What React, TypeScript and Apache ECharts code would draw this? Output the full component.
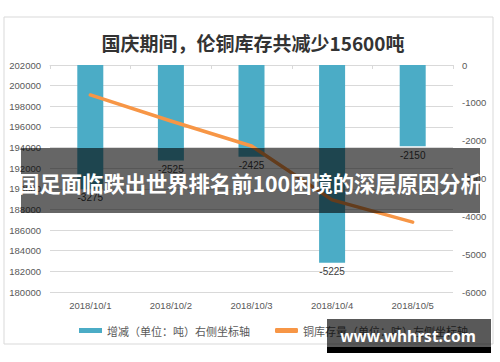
import React, { useEffect, useRef } from "react";
import * as echarts from "echarts";

const titleText = "国庆期间，伦铜库存共减少15600吨";
const categories = ["2018/10/1", "2018/10/2", "2018/10/3", "2018/10/4", "2018/10/5"];
const changeName = "增减（单位：吨）右侧坐标轴";
const stockName = "铜库存量（单位：吨）左侧坐标轴";
const changeValues = [-3275, -2525, -2425, -5225, -2150];
const stockValues = [199100, 196575, 194150, 188925, 186775];
const leftAxisRange = [180000, 202000, 2000];
const rightAxisRange = [-6000, 0, 1000];
const bannerText = "国足面临跌出世界排名前100困境的深层原因分析";
const watermarkText = "www.whhrst.com";

export default function App() {
  const ref = useRef<HTMLDivElement>(null);
  useEffect(() => {
    if (!ref.current) return;
    const chart = echarts.init(ref.current, undefined, { renderer: "svg" });
    const axisLabel = {
      color: "#595959",
      fontSize: 9.5,
      fontFamily: "Liberation Sans",
      formatter: (v: any) => String(v),
    };
    chart.setOption({
      animation: false,
      backgroundColor: "#ffffff",
      title: {
        text: titleText,
        left: 248,
        textAlign: "center",
        top: 28,
        textStyle: { color: "#333333", fontSize: 19, fontWeight: "bold", fontFamily: "Noto Sans CJK SC" },
      },
      grid: { left: 50, right: 47, top: 65, bottom: 70 },
      legend: {
        left: 74,
        top: 320,
        itemWidth: 23,
        itemHeight: 5,
        itemGap: 25,
        textStyle: { color: "#595959", fontSize: 11, fontFamily: "Noto Sans CJK SC" },
        data: [
          { name: changeName, icon: "rect" },
          { name: stockName, icon: "roundRect" },
        ],
      },
      xAxis: {
        type: "category",
        data: categories,
        axisLine: { lineStyle: { color: "#d9d9d9" } },
        axisTick: { show: true, length: 4, lineStyle: { color: "#d9d9d9" } },
        axisLabel: { color: "#595959", fontSize: 9.5, fontFamily: "Liberation Sans", margin: 8 },
      },
      yAxis: [
        {
          type: "value",
          min: leftAxisRange[0],
          max: leftAxisRange[1],
          interval: leftAxisRange[2],
          axisLine: { show: false },
          axisTick: { show: false },
          splitLine: { lineStyle: { color: "#d9d9d9" } },
          axisLabel: { ...axisLabel, margin: 9 },
        },
        {
          type: "value",
          min: rightAxisRange[0],
          max: rightAxisRange[1],
          interval: rightAxisRange[2],
          axisLine: { show: false },
          axisTick: { show: false },
          splitLine: { show: false },
          axisLabel: { ...axisLabel, margin: 9 },
        },
      ],
      series: [
        {
          name: changeName,
          type: "bar",
          yAxisIndex: 1,
          barWidth: 26,
          data: changeValues,
          itemStyle: { color: "#4bacc6" },
          label: {
            show: true,
            position: "bottom",
            distance: 4,
            color: "#404040",
            fontSize: 10,
            fontFamily: "Liberation Sans",
          },
          z: 2,
        },
        {
          name: stockName,
          type: "line",
          yAxisIndex: 0,
          data: stockValues,
          showSymbol: false,
          symbol: "none",
          lineStyle: { color: "#f79646", width: 3.5, cap: "round", join: "round" },
          itemStyle: { color: "#f79646" },
          z: 3,
        },
      ],
      graphic: [
        {
          type: "rect",
          shape: { x: 4, y: 17, width: 489, height: 327 },
          style: { fill: "none", stroke: "#d9d9d9", lineWidth: 1 },
          silent: true,
          z: 0,
        },
        {
          type: "rect",
          shape: { x: 21, y: 148, width: 459, height: 65 },
          style: { fill: "rgba(0,0,0,0.6)" },
          z: 100,
        },
        {
          type: "text",
          x: 250,
          y: 182,
          style: {
            text: bannerText,
            fill: "#ffffff",
            fontSize: 21.3,
            fontWeight: "bold",
            fontFamily: "Noto Sans CJK SC",
            align: "center",
            verticalAlign: "middle",
          },
          z: 101,
        },
        {
          type: "rect",
          shape: { x: 327, y: 319, width: 164, height: 28 },
          style: { fill: "rgba(0,0,0,0.65)" },
          z: 100,
        },
        {
          type: "rect",
          shape: { x: 327, y: 347, width: 164, height: 6 },
          style: { fill: "#000000" },
          z: 100,
        },
        {
          type: "text",
          x: 408,
          y: 336,
          style: {
            text: watermarkText,
            fill: "#ffffff",
            fontSize: 15.5,
            fontWeight: "bold",
            fontFamily: "Noto Sans",
            align: "center",
            verticalAlign: "middle",
          },
          z: 101,
        },
      ],
    });
    return () => chart.dispose();
  }, []);
  return (
    <div
      ref={ref}
      style={{ position: "absolute", left: 0, top: 0, width: 500, height: 362 }}
    />
  );
}
